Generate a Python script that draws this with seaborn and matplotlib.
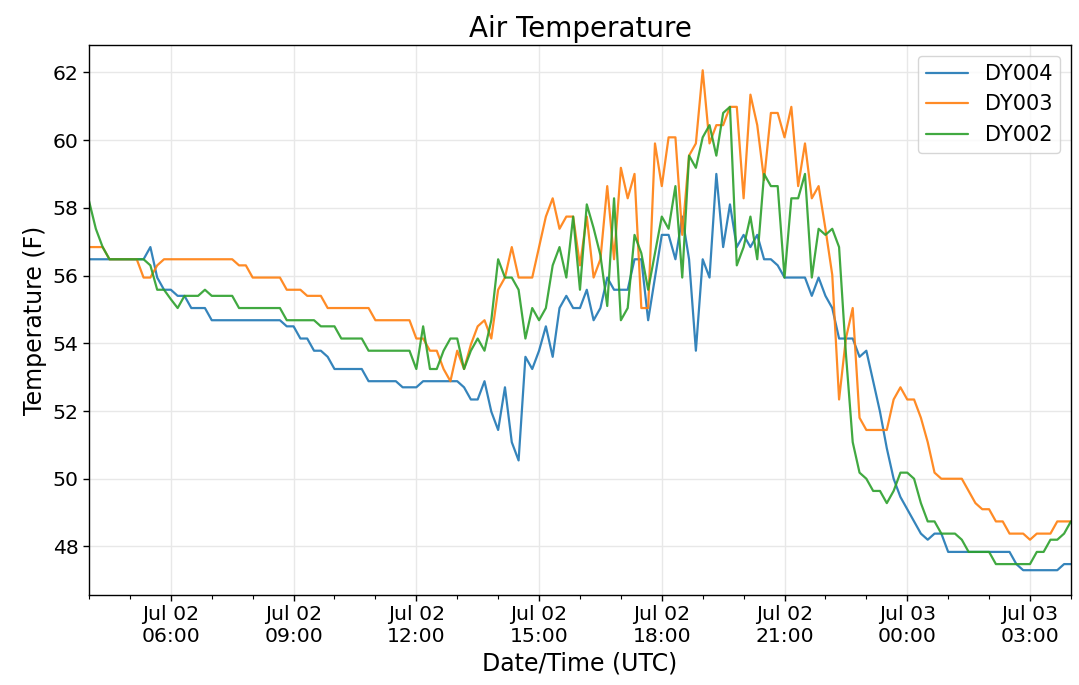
import pandas as pd
import numpy as np
import matplotlib
matplotlib.use("Agg")
import matplotlib.pyplot as plt
import matplotlib.dates as mdates
import seaborn as sns

# 10-minute readings, Jul 02 04:00 -> Jul 03 04:00 UTC
times = pd.date_range("2019-07-02 04:00", "2019-07-03 04:00", freq="10min")

dy004 = [
    56.48, 56.48, 56.48, 56.48, 56.48, 56.48, 56.48, 56.48, 56.48, 56.84, 55.94, 55.58,
    55.58, 55.40, 55.40, 55.04, 55.04, 55.04, 54.68, 54.68, 54.68, 54.68, 54.68, 54.68,
    54.68, 54.68, 54.68, 54.68, 54.68, 54.50, 54.50, 54.14, 54.14, 53.78, 53.78, 53.60,
    53.24, 53.24, 53.24, 53.24, 53.24, 52.88, 52.88, 52.88, 52.88, 52.88, 52.70, 52.70,
    52.70, 52.88, 52.88, 52.88, 52.88, 52.88, 52.88, 52.70, 52.34, 52.34, 52.88, 51.98,
    51.44, 52.70, 51.08, 50.54, 53.60, 53.24, 53.78, 54.50, 53.60, 55.04, 55.40, 55.04,
    55.04, 55.58, 54.68, 55.04, 55.94, 55.58, 55.58, 55.58, 56.48, 56.48, 54.68, 55.94,
    57.20, 57.20, 56.48, 57.74, 56.48, 53.78, 56.48, 55.94, 59.00, 56.84, 58.10, 56.84,
    57.20, 56.84, 57.20, 56.48, 56.48, 56.30, 55.94, 55.94, 55.94, 55.94, 55.40, 55.94,
    55.40, 55.04, 54.14, 54.14, 54.14, 53.60, 53.78, 52.88, 51.98, 50.90, 50.00, 49.46,
    49.10, 48.74, 48.38, 48.20, 48.38, 48.38, 47.84, 47.84, 47.84, 47.84, 47.84, 47.84,
    47.84, 47.84, 47.84, 47.84, 47.48, 47.30, 47.30, 47.30, 47.30, 47.30, 47.30, 47.48,
    47.48,
]

dy003 = [
    56.84, 56.84, 56.84, 56.48, 56.48, 56.48, 56.48, 56.48, 55.94, 55.94, 56.30, 56.48,
    56.48, 56.48, 56.48, 56.48, 56.48, 56.48, 56.48, 56.48, 56.48, 56.48, 56.30, 56.30,
    55.94, 55.94, 55.94, 55.94, 55.94, 55.58, 55.58, 55.58, 55.40, 55.40, 55.40, 55.04,
    55.04, 55.04, 55.04, 55.04, 55.04, 55.04, 54.68, 54.68, 54.68, 54.68, 54.68, 54.68,
    54.14, 54.14, 53.78, 53.78, 53.24, 52.88, 53.78, 53.24, 53.96, 54.50, 54.68, 54.14,
    55.58, 55.94, 56.84, 55.94, 55.94, 55.94, 56.84, 57.74, 58.28, 57.38, 57.74, 57.74,
    56.30, 57.74, 55.94, 56.48, 58.64, 56.48, 59.18, 58.28, 59.00, 55.04, 55.04, 59.90,
    58.64, 60.08, 60.08, 57.20, 59.54, 59.90, 62.06, 59.90, 60.44, 60.44, 60.98, 60.98,
    58.28, 61.34, 60.44, 58.82, 60.80, 60.80, 60.08, 60.98, 58.64, 59.90, 58.28, 58.64,
    57.38, 56.02, 52.34, 54.14, 55.04, 51.80, 51.44, 51.44, 51.44, 51.44, 52.34, 52.70,
    52.34, 52.34, 51.80, 51.08, 50.18, 50.00, 50.00, 50.00, 50.00, 49.64, 49.28, 49.10,
    49.10, 48.74, 48.74, 48.38, 48.38, 48.38, 48.20, 48.38, 48.38, 48.38, 48.74, 48.74,
    48.74,
]

dy002 = [
    58.20, 57.38, 56.84, 56.48, 56.48, 56.48, 56.48, 56.48, 56.48, 56.30, 55.58, 55.58,
    55.30, 55.04, 55.40, 55.40, 55.40, 55.58, 55.40, 55.40, 55.40, 55.40, 55.04, 55.04,
    55.04, 55.04, 55.04, 55.04, 55.04, 54.68, 54.68, 54.68, 54.68, 54.68, 54.50, 54.50,
    54.50, 54.14, 54.14, 54.14, 54.14, 53.78, 53.78, 53.78, 53.78, 53.78, 53.78, 53.78,
    53.24, 54.50, 53.24, 53.24, 53.78, 54.14, 54.14, 53.24, 53.78, 54.14, 53.78, 54.68,
    56.48, 55.94, 55.94, 55.58, 54.14, 55.04, 54.68, 55.04, 56.30, 56.84, 55.94, 57.74,
    55.58, 58.10, 57.40, 56.60, 55.10, 58.28, 54.68, 55.04, 57.20, 56.66, 55.58, 56.66,
    57.74, 57.38, 58.64, 55.94, 59.54, 59.18, 60.08, 60.44, 59.54, 60.80, 60.98, 56.30,
    56.84, 57.74, 56.48, 59.00, 58.64, 58.64, 55.94, 58.28, 58.28, 59.00, 55.94, 57.38,
    57.20, 57.38, 56.84, 53.70, 51.08, 50.18, 50.00, 49.64, 49.64, 49.28, 49.64, 50.18,
    50.18, 50.00, 49.28, 48.74, 48.74, 48.38, 48.38, 48.38, 48.20, 47.84, 47.84, 47.84,
    47.84, 47.48, 47.48, 47.48, 47.48, 47.48, 47.48, 47.84, 47.84, 48.20, 48.20, 48.38,
    48.74,
]

stations = ["DY004", "DY003", "DY002"]
colors = ["#1f77b4", "#ff7f0e", "#2ca02c"]

df = pd.concat([
    pd.DataFrame({"time": times, "temp": vals, "station": name})
    for name, vals in zip(stations, [dy004, dy003, dy002])
])

sns.set_style("whitegrid", {
    "axes.edgecolor": "black",
    "axes.labelcolor": "black",
    "text.color": "black",
    "grid.color": "#e8e8e8",
    "xtick.bottom": True,
    "ytick.left": True,
    "xtick.color": "black",
    "ytick.color": "black",
})
plt.rcParams["font.family"] = ["DejaVu Sans"]

fig = plt.figure(figsize=(10.79, 6.85), dpi=100)
ax = fig.add_axes([0.0825, 0.132, 0.910, 0.802])

sns.lineplot(data=df, x="time", y="temp", hue="station", hue_order=stations,
             palette=colors, linewidth=1.6, alpha=0.9, ax=ax)

ax.set_xlim(times[0], times[-1])
ax.set_ylim(46.58, 62.8)
ax.set_yticks(np.arange(48, 63, 2))

ax.xaxis.set_major_locator(mdates.HourLocator(byhour=range(0, 24, 3)))
ax.xaxis.set_minor_locator(mdates.HourLocator())
ax.xaxis.set_major_formatter(mdates.DateFormatter("%b %d\n%H:%M"))
ax.tick_params(axis="both", which="major", labelsize=14.7, length=4, width=1)
ax.tick_params(axis="x", which="minor", length=3, width=0.8)
ax.grid(True, which="major", linewidth=1)

for s in ax.spines.values():
    s.set_color("black")
    s.set_linewidth(1)

ax.set_title("Air Temperature", fontsize=20)
ax.set_xlabel("Date/Time (UTC)", fontsize=17)
ax.set_ylabel("Temperature (F)", fontsize=17)

handles, labels = ax.get_legend_handles_labels()
ax.legend(handles, labels, loc="upper right", fontsize=15, frameon=True)

fig.savefig("out.png", dpi=100)
